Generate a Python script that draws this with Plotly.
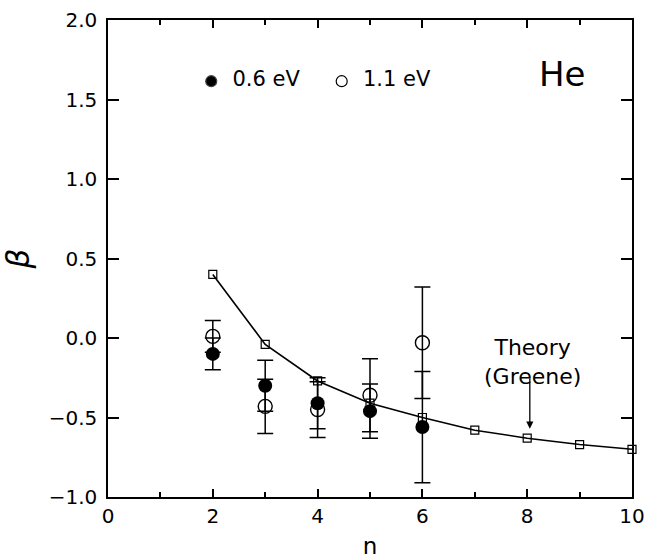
import plotly.graph_objects as go

n_exp = [2, 3, 4, 5, 6]
beta_06 = [-0.10, -0.30, -0.41, -0.46, -0.56]
err_06 = [0.10, 0.16, 0.16, 0.17, 0.35]
beta_11 = [0.01, -0.43, -0.45, -0.36, -0.03]
err_11 = [0.10, 0.17, 0.175, 0.23, 0.35]
n_theory = [2, 3, 4, 5, 6, 7, 8, 9, 10]
beta_theory = [0.40, -0.04, -0.27, -0.41, -0.50, -0.58, -0.63, -0.67, -0.70]

legend_labels = ["0.6 eV", "1.1 eV"]
legend_n = [1.97, 4.46]
legend_beta = [1.615, 1.615]

FONT = "DejaVu Sans"

fig = go.Figure()
fig.add_trace(go.Scatter(
    x=n_theory, y=beta_theory, mode="lines+markers", showlegend=False,
    line=dict(color="black", width=1.6),
    marker=dict(symbol="square-open", size=8, color="black", line=dict(width=1.2)),
    cliponaxis=False,
))
fig.add_trace(go.Scatter(
    x=n_exp, y=beta_11, mode="markers", showlegend=False,
    marker=dict(symbol="circle-open", size=14, color="black", line=dict(width=1.4)),
    error_y=dict(type="data", array=err_11, color="black", thickness=1.5, width=8),
))
fig.add_trace(go.Scatter(
    x=n_exp, y=beta_06, mode="markers", showlegend=False,
    marker=dict(symbol="circle", size=14, color="black"),
    error_y=dict(type="data", array=err_06, color="black", thickness=1.5, width=8),
))
# in-plot key
fig.add_trace(go.Scatter(
    x=legend_n, y=legend_beta, mode="markers+text", showlegend=False,
    text=["  " + t for t in legend_labels], textposition="middle right",
    textfont=dict(family=FONT, size=21, color="black"),
    marker=dict(symbol=["circle", "circle-open"], size=11, color="black", line=dict(width=1.2)),
))

axis_common = dict(
    showline=True, linecolor="black", linewidth=1.5, mirror="ticks",
    ticks="inside", tickwidth=1.5, tickcolor="black",
    showgrid=False, zeroline=False, automargin=False,
    tickfont=dict(family=FONT, size=20, color="black"),
)
fig.update_xaxes(
    range=[0, 10], tickvals=[0, 2, 4, 6, 8, 10], ticklen=8,
    minor=dict(tickvals=[1, 3, 5, 7, 9], ticks="inside", ticklen=5, tickwidth=1.5, tickcolor="black"),
    title=dict(text="n", font=dict(family=FONT, size=23, color="black"), standoff=13),
    **axis_common,
)
fig.update_yaxes(
    range=[-1.0, 2.0], tickvals=[-1.0, -0.5, 0.0, 0.5, 1.0, 1.5, 2.0], ticklen=11,
    ticktext=["\u22121.0", "\u22120.5", "0.0", "0.5", "1.0", "1.5", "2.0"],
    ticklabelstandoff=5,
    title=dict(text="<i>\u03b2</i>", font=dict(family=FONT, size=31, color="black"), standoff=14),
    **axis_common,
)

fig.add_annotation(x=8.05, y=-0.57, ax=8.05, ay=-0.245, xref="x", yref="y", axref="x", ayref="y",
                   showarrow=True, arrowhead=2, arrowsize=1.1, arrowwidth=1.3, arrowcolor="black",
                   text="", font=dict(size=1), standoff=0, startstandoff=0)
fig.add_annotation(x=8.1, y=-0.15, xref="x", yref="y", text="Theory<br>(Greene)",
                   showarrow=False, font=dict(family=FONT, size=22, color="black"), align="center")
fig.add_annotation(x=8.66, y=1.66, xref="x", yref="y", text="He", showarrow=False,
                   font=dict(family=FONT, size=34, color="black"))

fig.update_layout(
    width=648, height=559,
    margin=dict(l=108, r=16, t=20, b=62),
    paper_bgcolor="white", plot_bgcolor="white",
    showlegend=False,
)
fig.write_html("out.html")
